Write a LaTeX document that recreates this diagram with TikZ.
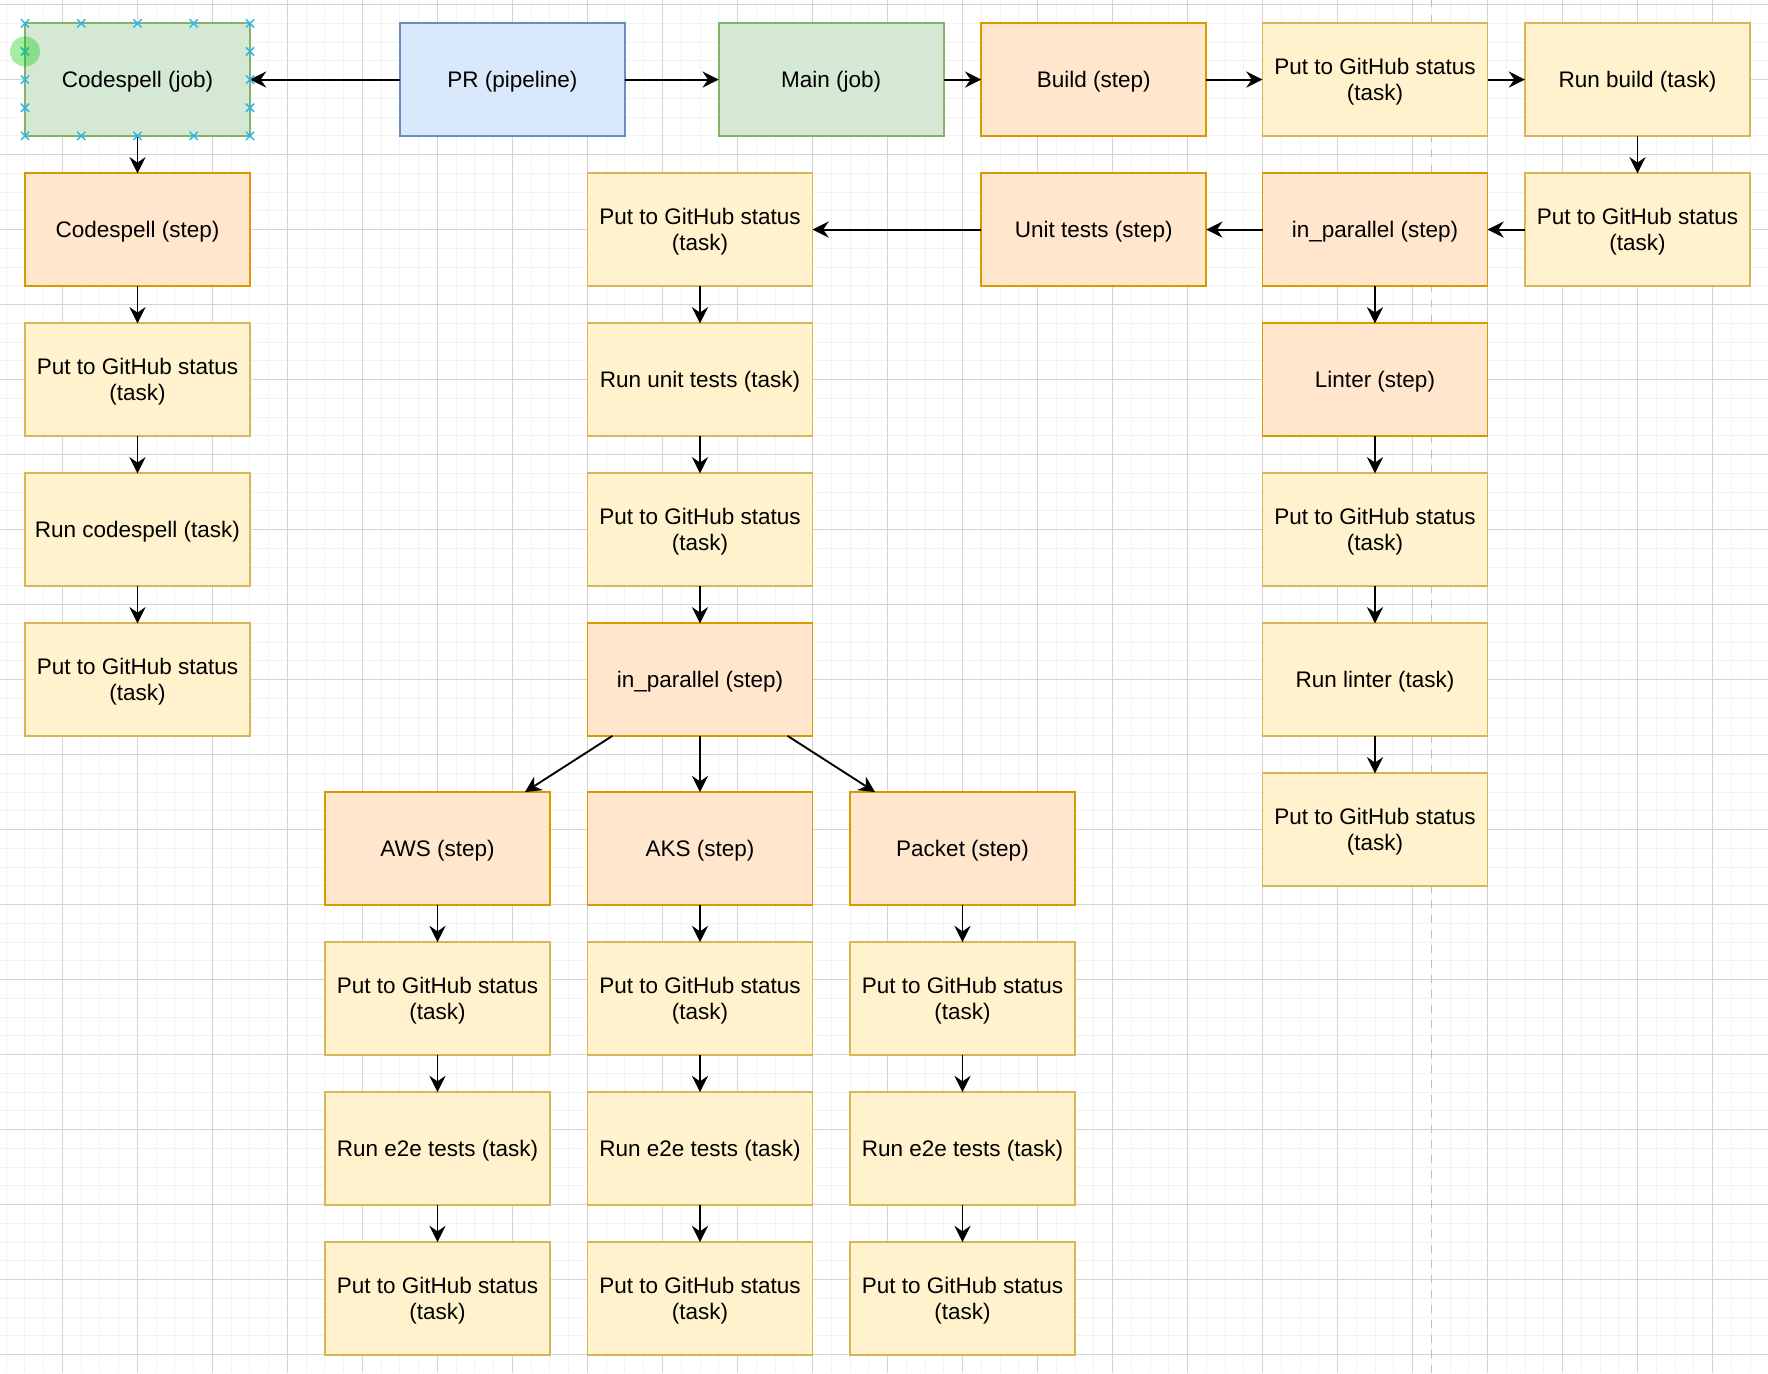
\documentclass[tikz,border=0pt]{standalone}
\usepackage{fontspec}
\setmainfont{Liberation Sans}
\usepackage{xcolor}
\usetikzlibrary{positioning, arrows.meta}

\definecolor{jobfill}{HTML}{D5E8D4}
\definecolor{jobline}{HTML}{82B366}
\definecolor{pipefill}{HTML}{DAE8FC}
\definecolor{pipeline}{HTML}{6C8EBF}
\definecolor{stepfill}{HTML}{FFE6CC}
\definecolor{stepline}{HTML}{D79B00}
\definecolor{taskfill}{HTML}{FFF2CC}
\definecolor{taskline}{HTML}{D6B656}
\definecolor{gridlight}{HTML}{F2F2F2}
\definecolor{griddark}{HTML}{D4D4D4}
\definecolor{handleblue}{HTML}{29B6F2}

\begin{document}
\begin{tikzpicture}[
        x=0.75pt, y=-0.75pt,
        node distance=15pt,
        box/.style={rectangle, line width=0.75pt, minimum width=90pt, minimum height=45pt,
            inner sep=0pt, outer sep=0pt, align=center, text depth=0pt,
            font=\fontsize{9}{10.5}\selectfont},
        job/.style={box, draw=jobline, fill=jobfill},
        pipebox/.style={box, draw=pipeline, fill=pipefill},
        stepbox/.style={box, draw=stepline, fill=stepfill},
        task/.style={box, draw=taskline, fill=taskfill},
        flow/.style={draw, line width=0.75pt, -{Stealth[length=6.5pt, width=6.5pt, inset=2.2pt]}},
        gridminor/.style={draw=gridlight, line width=0.4pt},
        gridmajor/.style={draw=griddark, line width=0.4pt},
        handle/.style={draw=handleblue, line width=0.6pt}
    ]
    % background grid
    \fill[white] (-13.33,-12.44) rectangle (929.6,719.87);
    \useasboundingbox (-13.33,-12.44) rectangle (929.6,719.87);
    \foreach \gx in {-10,0,...,920} \draw[gridminor] (\gx,-12.44) -- (\gx,719.87);
    \foreach \gy in {-10,0,...,710} \draw[gridminor] (-13.33,\gy) -- (929.6,\gy);
    \foreach \gx in {20,60,...,900} \draw[gridmajor] (\gx,-12.44) -- (\gx,719.87);
    \foreach \gy in {-10,30,...,710} \draw[gridmajor] (-13.33,\gy) -- (929.6,\gy);
    \draw[draw=black!25, line width=0.6pt, dash pattern=on 3pt off 3pt] (750,-12.44) -- (750,719.87);

    % top row
    \node[job] at (60,30) (csjob) {Codespell (job)};
    \node[pipebox, right=60pt of csjob] (pr) {PR (pipeline)};
    \node[job, right=37.5pt of pr] (mainjob) {Main (job)};
    \node[stepbox, right=of mainjob] (build) {Build (step)};
    \node[task, right=22.5pt of build] (bstat1) {Put to GitHub status\\(task)};
    \node[task, right=of bstat1] (runbuild) {Run build (task)};
    \node[task, below=of runbuild] (bstat2) {Put to GitHub status\\(task)};
    \node[stepbox, below=of bstat1] (par1) {in\_parallel (step)};
    \node[stepbox, below=of build] (unit) {Unit tests (step)};

    % codespell column
    \node[stepbox, below=of csjob] (csstep) {Codespell (step)};
    \node[task, below=of csstep] (csstat1) {Put to GitHub status\\(task)};
    \node[task, below=of csstat1] (runcs) {Run codespell (task)};
    \node[task, below=of runcs] (csstat2) {Put to GitHub status\\(task)};

    % unit tests column
    \node[task, left=67.5pt of unit] (ustat1) {Put to GitHub status\\(task)};
    \node[task, below=of ustat1] (rununit) {Run unit tests (task)};
    \node[task, below=of rununit] (ustat2) {Put to GitHub status\\(task)};
    \node[stepbox, below=of ustat2] (par2) {in\_parallel (step)};

    % linter column
    \node[stepbox, below=of par1] (linter) {Linter (step)};
    \node[task, below=of linter] (lstat1) {Put to GitHub status\\(task)};
    \node[task, below=of lstat1] (runlint) {Run linter (task)};
    \node[task, below=of runlint] (lstat2) {Put to GitHub status\\(task)};

    % e2e columns
    \node[stepbox, below=22.5pt of par2] (aks) {AKS (step)};
    \node[stepbox, left=of aks] (aws) {AWS (step)};
    \node[stepbox, right=of aks] (packet) {Packet (step)};
    \foreach \cloud in {aws, aks, packet} {
        \node[task, below=of \cloud] (\cloud stat1) {Put to GitHub status\\(task)};
        \node[task, below=of \cloud stat1] (\cloud e2e) {Run e2e tests (task)};
        \node[task, below=of \cloud e2e] (\cloud stat2) {Put to GitHub status\\(task)};
        \draw[flow] (\cloud) -- (\cloud stat1);
        \draw[flow] (\cloud stat1) -- (\cloud e2e);
        \draw[flow] (\cloud e2e) -- (\cloud stat2);
        \draw[flow] (par2) -- (\cloud);
    }

    \draw[flow] (pr) -- (csjob);
    \draw[flow] (pr) -- (mainjob);
    \draw[flow] (mainjob) -- (build);
    \draw[flow] (build) -- (bstat1);
    \draw[flow] (bstat1) -- (runbuild);
    \draw[flow] (runbuild) -- (bstat2);
    \draw[flow] (bstat2) -- (par1);
    \draw[flow] (par1) -- (unit);
    \draw[flow] (unit) -- (ustat1);
    \draw[flow] (ustat1) -- (rununit);
    \draw[flow] (rununit) -- (ustat2);
    \draw[flow] (ustat2) -- (par2);
    \draw[flow] (par1) -- (linter);
    \draw[flow] (linter) -- (lstat1);
    \draw[flow] (lstat1) -- (runlint);
    \draw[flow] (runlint) -- (lstat2);
    \draw[flow] (csjob) -- (csstep);
    \draw[flow] (csstep) -- (csstat1);
    \draw[flow] (csstat1) -- (runcs);
    \draw[flow] (runcs) -- (csstat2);

    % selection handles
    \foreach \hx in {0,30,...,120} {
        \draw[handle] (\hx,0) +(-2.2,-2.2) -- +(2.2,2.2) +(-2.2,2.2) -- +(2.2,-2.2);
        \draw[handle] (\hx,60) +(-2.2,-2.2) -- +(2.2,2.2) +(-2.2,2.2) -- +(2.2,-2.2);
    }
    \foreach \hy in {15,30,45} {
        \draw[handle] (0,\hy) +(-2.2,-2.2) -- +(2.2,2.2) +(-2.2,2.2) -- +(2.2,-2.2);
        \draw[handle] (120,\hy) +(-2.2,-2.2) -- +(2.2,2.2) +(-2.2,2.2) -- +(2.2,-2.2);
    }
    \fill[green!80!black, opacity=0.35] (0,15) circle (8);
\end{tikzpicture}
\end{document}
